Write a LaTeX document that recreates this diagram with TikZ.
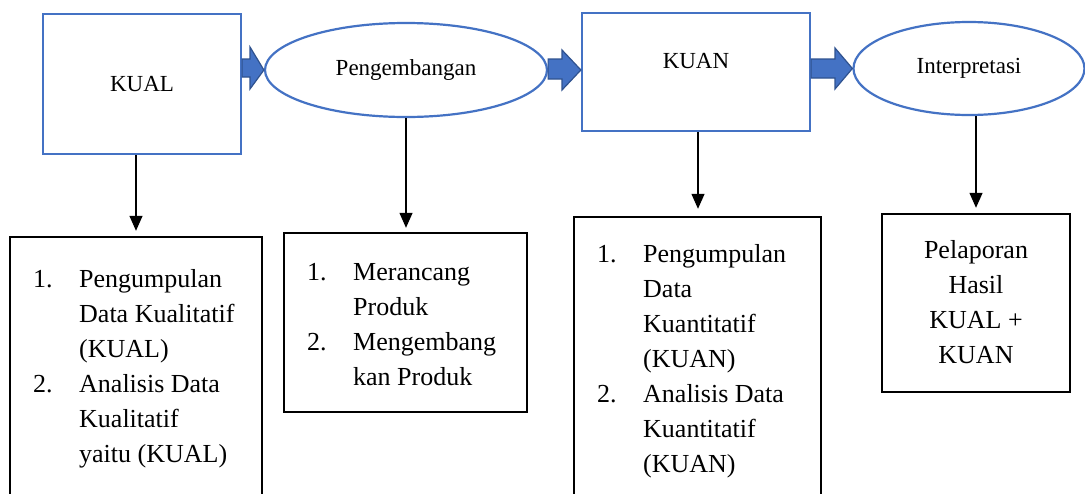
\documentclass[tikz,border=0pt]{standalone}
\usepackage{fontspec}
\setmainfont{Liberation Serif}
\usetikzlibrary{shapes.geometric,arrows.meta,calc}
\definecolor{wblue}{HTML}{4472C4}
\definecolor{wdark}{HTML}{2F528F}
\tikzset{
  bluebox/.style={draw=wblue, line width=2.2pt, fill=white, rectangle, inner sep=0pt},
  blueell/.style={draw=wblue, line width=2.2pt, fill=white, ellipse, inner sep=0pt},
  blackbox/.style={draw=black, line width=2.4pt, fill=white, rectangle, inner sep=0pt},
  toplabel/.style={font=\fontsize{23}{28}\selectfont, inner sep=0pt},
  boxtext/.style={font=\fontsize{26}{35}\selectfont, inner sep=0pt},
  barrow/.style={fill=wblue, draw=wdark, line width=1.2pt, line join=miter},
  conn/.style={draw=black, line width=1.3pt, -{Triangle[length=15pt,width=13pt]}}
}
\newcommand{\itm}[1]{\makebox[46pt][l]{#1}}
\begin{document}
\begin{tikzpicture}[x=1pt,y=-1pt]
\useasboundingbox (0,0) rectangle (1085,493);
\clip (0,0) rectangle (1085,493);
\fill[white] (0,0) rectangle (1085,493);

% top row
\node[bluebox, minimum width=198pt, minimum height=140pt, toplabel] (kual) at (142,84) {KUAL};
\node[blueell, minimum width=282pt, minimum height=94pt, toplabel] (peng) at (406,70) {Pengembangan};
\node[bluebox, minimum width=228pt, minimum height=118pt] (kuan) at (696,72) {};
\node[toplabel, anchor=base] (kuantxt) at (696,68) {KUAN};
\node[blueell, minimum width=231pt, minimum height=93pt, toplabel] (interp) at (969,68.5) {Interpretasi};

% block arrows
\draw[barrow] (kual.east |- 0,59) -- (250,59) -- (250,47) -- (peng.west) -- (250,89) -- (250,77) -- (kual.east |- 0,77) -- cycle;
\draw[barrow] (peng.east |- 0,59) -- (562,59) -- (562,50) -- (kuan.west |- 0,70) -- (562,90) -- (562,79) -- (peng.east |- 0,79) -- cycle;
\draw[barrow] (kuan.east |- 0,59) -- (835,59) -- (835,48) -- (interp.west) -- (835,89) -- (835,78) -- (kuan.east |- 0,78) -- cycle;

% bottom boxes
\node[blackbox, minimum width=252pt, minimum height=290pt] (box1) at (136,382) {};
\node[blackbox, minimum width=243pt, minimum height=179pt] (box2) at (405.5,322.5) {};
\node[blackbox, minimum width=247pt, minimum height=310pt] (box3) at (697.5,372) {};
\node[blackbox, minimum width=188pt, minimum height=178pt] (box4) at (976,303) {};

\node[boxtext, anchor=base west] (t1) at (33,287) {\begin{tabular}[t]{@{}l@{}}
\itm{1.}Pengumpulan\\
\itm{}Data Kualitatif\\
\itm{}(KUAL)\\
\itm{2.}Analisis Data\\
\itm{}Kualitatif\\
\itm{}yaitu (KUAL)
\end{tabular}};
\node[boxtext, anchor=base west] (t2) at (307,280) {\begin{tabular}[t]{@{}l@{}}
\itm{1.}Merancang\\
\itm{}Produk\\
\itm{2.}Mengembang\\
\itm{}kan Produk
\end{tabular}};
\node[boxtext, anchor=base west] (t3) at (597,262) {\begin{tabular}[t]{@{}l@{}}
\itm{1.}Pengumpulan\\
\itm{}Data\\
\itm{}Kuantitatif\\
\itm{}(KUAN)\\
\itm{2.}Analisis Data\\
\itm{}Kuantitatif\\
\itm{}(KUAN)
\end{tabular}};
\node[boxtext, anchor=base] (t4) at (976,258) {\begin{tabular}[t]{@{}c@{}}
Pelaporan\\
Hasil\\
KUAL +\\
KUAN
\end{tabular}};

% connectors
\draw[conn, shorten >=5pt] (kual.south -| box1.north) -- (box1.north);
\draw[conn, shorten >=4pt] (peng.south) -- (peng.south |- box2.north);
\draw[conn, shorten >=7pt] (kuan.south -| 698,0) -- (box3.north -| 698,0);
\draw[conn, shorten >=5pt] (interp.south -| box4.north) -- (box4.north);
\end{tikzpicture}
\end{document}
